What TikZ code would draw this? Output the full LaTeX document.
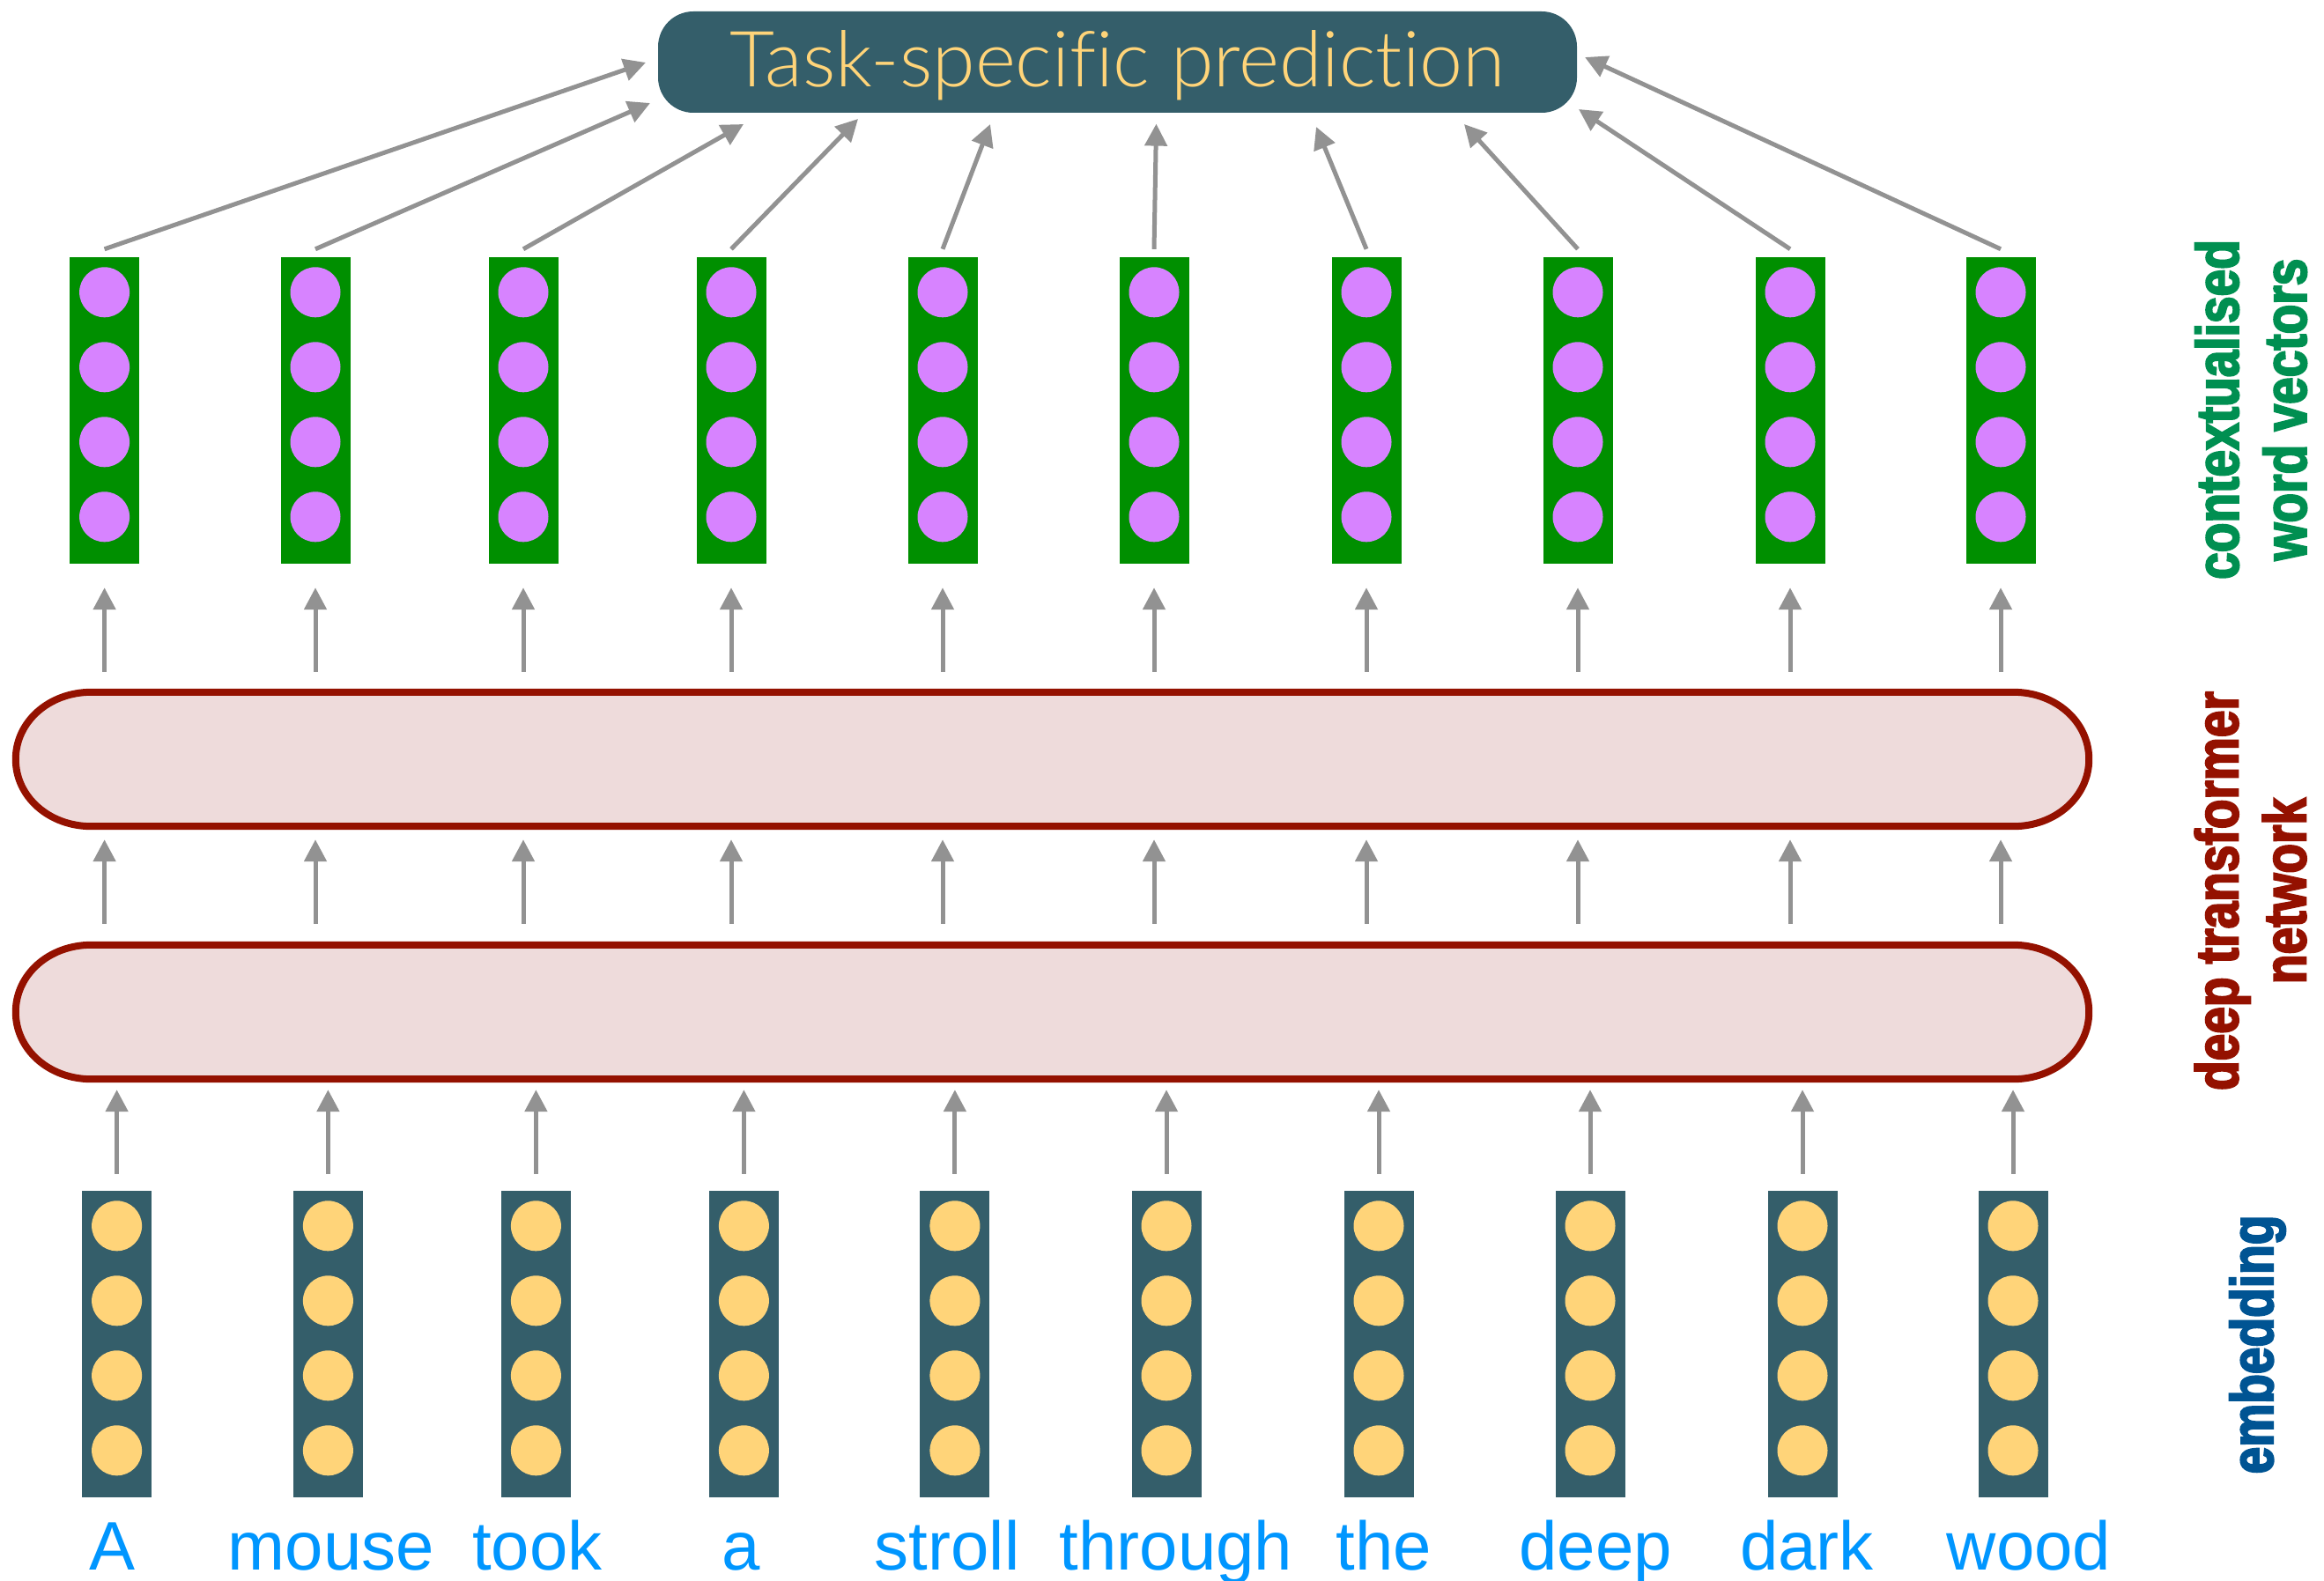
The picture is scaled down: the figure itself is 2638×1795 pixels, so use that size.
\documentclass[tikz,border=0pt]{standalone}
\usepackage{fontspec}
\setmainfont{Liberation Sans}
\newfontfamily\titlefont{Lato Light}[Ligatures=NoCommon]
\newfontfamily\labelfont{Liberation Sans Bold}[FakeStretch=0.81,FakeBold=3]
\usetikzlibrary{arrows.meta,calc}

\definecolor{slate}{HTML}{345E6A}
\definecolor{cantaloupe}{HTML}{FFD479}
\definecolor{ctxgreen}{HTML}{008F00}
\definecolor{lavender}{HTML}{D783FF}
\definecolor{arrowgray}{HTML}{929292}
\definecolor{cayenne}{HTML}{941100}
\definecolor{blush}{HTML}{EEDBDB}
\definecolor{aqua}{HTML}{0096FF}
\definecolor{moss}{HTML}{008F51}
\definecolor{ocean}{HTML}{005493}

% outline of a transformer layer: flat top and bottom, elliptical ends
\newcommand\layeroutline[1]{%
  \draw[layer] ($(#1.north west)+(86,0)$) -- ($(#1.north east)+(-86,0)$)
    .. controls ($(#1.north east)+(-37.8,0)$) and ($(#1.east)+(0,-42.6)$) .. (#1.east)
    .. controls ($(#1.east)+(0,42.6)$) and ($(#1.south east)+(-37.8,0)$) .. ($(#1.south east)+(-86,0)$)
    -- ($(#1.south west)+(86,0)$)
    .. controls ($(#1.south west)+(37.8,0)$) and ($(#1.west)+(0,42.6)$) .. (#1.west)
    .. controls ($(#1.west)+(0,-42.6)$) and ($(#1.north west)+(37.8,0)$) .. cycle;}

\begin{document}
\begin{tikzpicture}[x=1pt,y=-1pt,
  arr/.style={draw=arrowgray,line width=5pt,-{Triangle[width=25pt,length=25pt]}},
  ctxcol/.style={rectangle,fill=ctxgreen,minimum width=79pt,minimum height=348pt,inner sep=0},
  embcol/.style={rectangle,fill=slate,minimum width=79pt,minimum height=348pt,inner sep=0},
  ctxdot/.style={circle,fill=lavender,minimum size=57pt,inner sep=0},
  embdot/.style={circle,fill=cantaloupe,minimum size=57pt,inner sep=0},
  word/.style={text=aqua,font=\fontsize{78}{90}\selectfont,anchor=base,inner sep=0},
  layer/.style={draw=cayenne,fill=blush,line width=8pt},
  layerbox/.style={minimum width=2353pt,minimum height=152pt,inner sep=0},
  sidelabel/.style={font=\labelfont\fontsize{68}{77}\selectfont,rotate=90,align=center,inner sep=0}
]
\useasboundingbox (0,0) rectangle (2638,1795);

% word vectors: contextualised (top) and embeddings (bottom)
\foreach \xg/\xe [count=\i] in {118.6/132.6,358/372.4,594/608.4,830/844.4,1070/1083.9,
                                1310/1324,1551/1565,1791/1805,2032/2046,2271/2285}{
  \node[ctxcol] (g\i) at (\xg,466) {};
  \node[embcol] (e\i) at (\xe,1526) {};
  \foreach \j/\dy in {1/40,2/125,3/210,4/295}{
    \node[ctxdot] (g\i-\j) at ($(g\i.north)+(0,\dy)$) {};
    \node[embdot] (e\i-\j) at ($(e\i.north)+(0,\dy)$) {};
  }
}

% transformer layers
\node[layerbox] (upper) at (1194.5,862) {};
\node[layerbox] (lower) at (1194.5,1149) {};
\layeroutline{upper}
\layeroutline{lower}

% vertical flow through the network
\foreach \i in {1,...,10}{
  \draw[arr] ($(e\i.north)+(0,-19)$) -- ($(e\i.north |- lower.south)+(0,12)$);
  \draw[arr] ($(g\i.south |- lower.north)+(0,-24)$) -- ($(g\i.south |- upper.south)+(0,15)$);
  \draw[arr] ($(g\i.south |- upper.north)+(0,-23)$) -- ($(g\i.south)+(0,27)$);
}

% prediction head
\node[fill=slate,rounded corners=40pt,minimum width=1043pt,minimum height=115pt,inner sep=0,
      text=cantaloupe,font=\titlefont\fontsize{88}{100}\selectfont,text height=62pt,text depth=5pt]
      (pred) at (1268.5,70.5) {Task-specific prediction};

\coordinate (t1) at (733,71);
\coordinate (t2) at (738,117);
\coordinate (t3) at (844,141);
\coordinate (t4) at (974,135);
\coordinate (t5) at (1124,141);
\coordinate (t6) at (1312.5,140.6);
\coordinate (t7) at (1494,144);
\coordinate (t8) at (1662,141);
\coordinate (t9) at (1792,124);
\coordinate (t10) at (1799,65);
\foreach \i in {1,...,10}{
  \draw[arr] ($(g\i.north)+(0,-9)$) -- (t\i);
}

% input sentence
\foreach \w/\x [count=\k] in {A/128,mouse/376,took/610,a/841,stroll/1075,through/1335,the/1571,deep/1811,dark/2051,wood/2303}{
  \node[word] (w\k) at (\x,1782) {\w};
}

% side labels
\node[sidelabel,text=moss] (lab-ctx) at (2555,465) {contextualised\\word vectors};
\node[sidelabel,text=cayenne] (lab-net) at (2554.5,1011.5) {deep transformer\\network};
\node[sidelabel,text=ocean,anchor=base] (lab-emb) at (2580,1526.5) {embedding};
\end{tikzpicture}
\end{document}
